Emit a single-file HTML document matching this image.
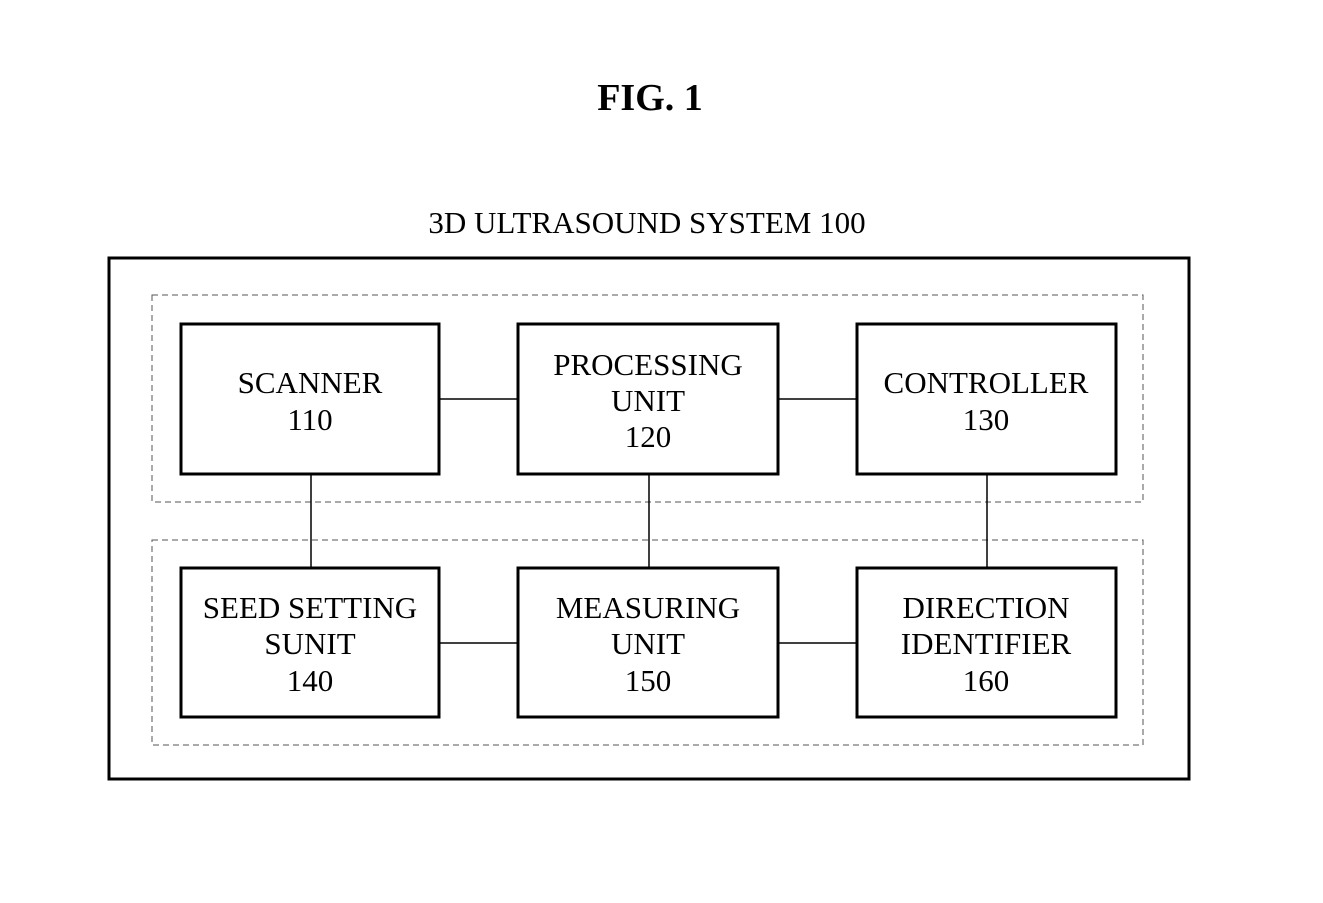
<!DOCTYPE html>
<html><head><style>
body{margin:0;background:#fff;}
svg text{font-family:"Liberation Serif",serif;fill:#000;}
</style></head><body>
<svg width="1323" height="898" xmlns="http://www.w3.org/2000/svg">
<text x="650" y="110" font-size="38" font-weight="bold" text-anchor="middle">FIG. 1</text>
<text x="647" y="233" font-size="31" text-anchor="middle">3D ULTRASOUND SYSTEM 100</text>
<rect x="109" y="258" width="1080" height="521" fill="none" stroke="#000" stroke-width="3"/>
<rect x="152" y="295" width="991" height="207" fill="none" stroke="#555" stroke-width="1" stroke-dasharray="6,4"/>
<rect x="152" y="540" width="991" height="205" fill="none" stroke="#555" stroke-width="1" stroke-dasharray="6,4"/>
<g stroke="#000" stroke-width="1.5">
<line x1="439" y1="399" x2="518" y2="399"/><line x1="778" y1="399" x2="857" y2="399"/>
<line x1="439" y1="643" x2="518" y2="643"/><line x1="778" y1="643" x2="857" y2="643"/>
<line x1="311" y1="474" x2="311" y2="568"/><line x1="649" y1="474" x2="649" y2="568"/><line x1="987" y1="474" x2="987" y2="568"/>
</g>
<g fill="#fff" stroke="#000" stroke-width="3">
<rect x="181" y="324" width="258" height="150"/><rect x="518" y="324" width="260" height="150"/><rect x="857" y="324" width="259" height="150"/>
<rect x="181" y="568" width="258" height="149"/><rect x="518" y="568" width="260" height="149"/><rect x="857" y="568" width="259" height="149"/>
</g>
<g font-size="31" text-anchor="middle">
<text x="310" y="393">SCANNER</text><text x="310" y="430">110</text>
<text x="648" y="375">PROCESSING</text><text x="648" y="411">UNIT</text><text x="648" y="447">120</text>
<text x="986" y="393">CONTROLLER</text><text x="986" y="430">130</text>
<text x="310" y="618">SEED SETTING</text><text x="310" y="654">SUNIT</text><text x="310" y="691">140</text>
<text x="648" y="618">MEASURING</text><text x="648" y="654">UNIT</text><text x="648" y="691">150</text>
<text x="986" y="618">DIRECTION</text><text x="986" y="654">IDENTIFIER</text><text x="986" y="691">160</text>
</g>
</svg>
</body></html>
